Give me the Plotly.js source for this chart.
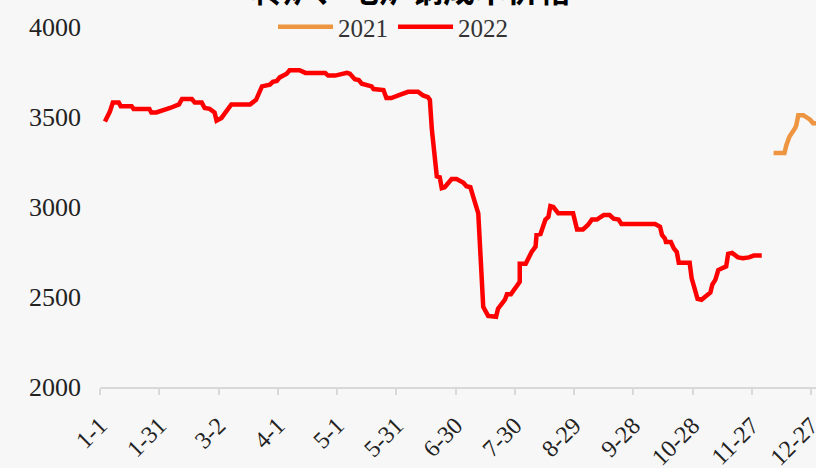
<!DOCTYPE html>
<html>
<head>
<meta charset="utf-8">
<script src="https://cdn.plot.ly/plotly-3.0.1.min.js"></script>
<style>
html,body{margin:0;padding:0;background:#f7f7f7;overflow:hidden;}
#chart{position:absolute;left:0;top:0;width:841px;height:468px;}
</style>
</head>
<body>
<div id="chart"></div>
<script>
// Day-of-year positions (0 = 1-1) and values
const days2022 = [2.5,5,6.5,9.5,10.5,16,17,25,26,28.5,35.5,38,40,41.5,46.5,48,51.5,53,55.5,58,59,61.5,66.5,76,79,82,86,87.5,89.5,91,94.5,96,101,104,114,115.5,119,125,126.5,129,131,132.5,137.5,138.5,143.5,145,147.5,151,154.5,156,161,163.5,166,167,168,170.5,172,173,174.5,178,180.5,184,185.5,187.5,189,191.5,194,196.5,200.5,201.5,205,206,208,211.5,212.5,212.5,215.5,218.5,220.5,221,223,225.5,227,228,229.5,232,239.5,241.5,244.5,247,249,251.5,255,258,260,262.5,264,281,283.5,284.5,286,286.5,289,290.5,292,293,298.5,299.5,302.5,304.5,307,309,310,311.5,313,315.5,317,318,320,323,325.5,328.5,331,335];
const values2022 = [3475,3530,3580,3580,3560,3560,3545,3545,3525,3525,3550,3560,3570,3600,3600,3580,3580,3550,3545,3525,3480,3495,3570,3570,3595,3670,3680,3695,3700,3720,3740,3760,3760,3745,3745,3730,3730,3745,3740,3710,3705,3685,3670,3655,3650,3605,3605,3620,3630,3640,3640,3620,3610,3595,3430,3170,3165,3105,3110,3155,3155,3135,3115,3110,3055,2965,2445,2395,2390,2435,2485,2515,2515,2565,2585,2685,2685,2750,2780,2845,2850,2930,2945,3005,3000,2965,2965,2875,2875,2900,2930,2930,2955,2955,2935,2930,2905,2905,2890,2845,2825,2805,2805,2770,2750,2690,2690,2605,2490,2485,2510,2525,2570,2595,2650,2665,2670,2740,2745,2720,2715,2720,2730,2730];
const days2021 = [341,346.5,347.5,349,352,352.5,353.5,356,359.5,361,364];
const values2021 = [3300,3300,3345,3390,3440,3455,3510,3510,3485,3465,3465];
const tickDays = [0,30,60,90,120,150,180,210,240,270,300,330,360];
const tickLabels = ["1-1","1-31","3-2","4-1","5-1","5-31","6-30","7-30","8-29","9-28","10-28","11-27","12-27"];
const yTicks = [2000,2500,3000,3500,4000];
const titleText = "转炉、电炉钢成本价格";

const serif = "Liberation Serif, Times New Roman, serif";

const traces = [
  {x: days2021, y: values2021, name: "2021", type: "scatter", mode: "lines",
   line: {color: "#EE9541", width: 4.5}},
  {x: days2022, y: values2022, name: "2022", type: "scatter", mode: "lines",
   line: {color: "#FF0000", width: 4.5}}
];

const layout = {
  width: 841, height: 468,
  paper_bgcolor: "#f7f7f7", plot_bgcolor: "#f7f7f7",
  margin: {l: 100, r: 20, t: 27, b: 81, autoexpand: false},
  showlegend: true,
  legend: {orientation: "h", x: 0.24, xanchor: "left", y: 1.0, yanchor: "middle",
           font: {family: serif, size: 25, color: "#333"}, bgcolor: "rgba(0,0,0,0)",
           itemwidth: 55, tracegroupgap: 0},
  xaxis: {range: [0, 365], tickmode: "array", tickvals: tickDays, ticktext: tickLabels,
          tickangle: -45, showgrid: false, zeroline: false, showline: true, automargin: false,
          linecolor: "#d9d9d9", linewidth: 2, ticks: "outside", ticklen: 6,
          tickcolor: "#d9d9d9", tickwidth: 2, ticklabelstandoff: 7,
          tickfont: {family: serif, size: 24, color: "#222"}},
  yaxis: {range: [2000, 4000], tickmode: "array", tickvals: yTicks, automargin: false,
          showgrid: false, zeroline: false, showline: false, ticks: "",
          ticklabelstandoff: 18,
          tickfont: {family: serif, size: 26, color: "#222"}},
  annotations: [{text: titleText, xref: "paper", yref: "paper", x: 0.431, y: 1,
                 xanchor: "center", yanchor: "bottom", yshift: 14, showarrow: false,
                 font: {family: "Noto Sans CJK SC", size: 32, color: "#000", weight: "bold"}}]
};

Plotly.newPlot("chart", traces, layout, {displayModeBar: false, staticPlot: true});
</script>
</body>
</html>
